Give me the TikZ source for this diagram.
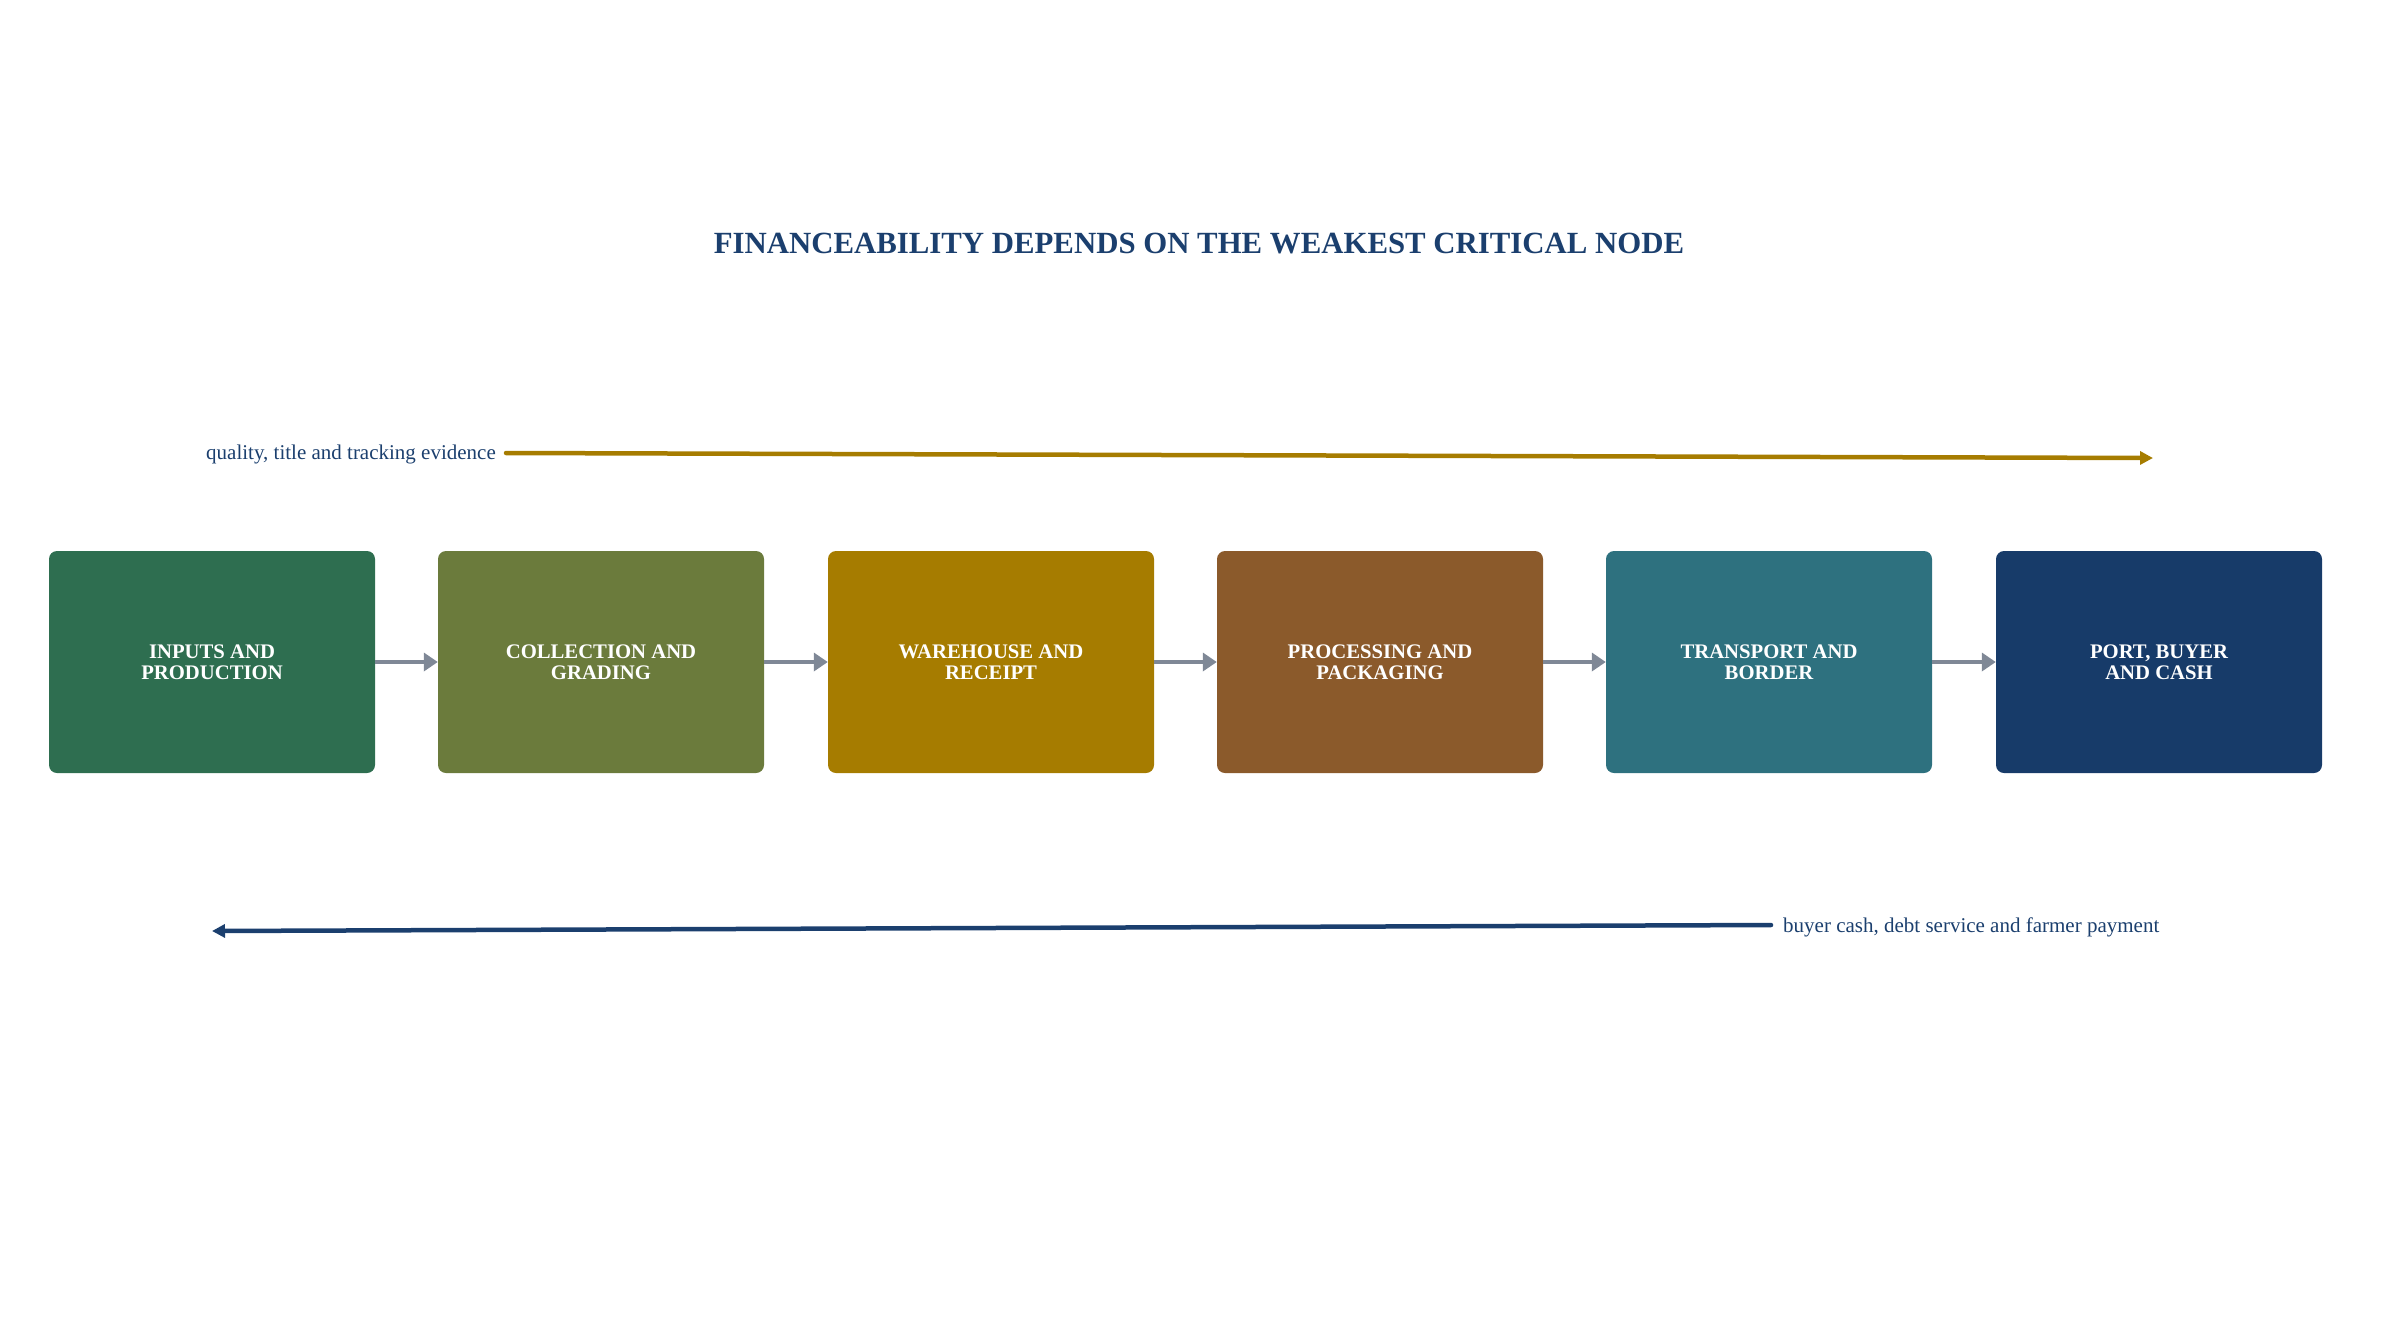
\documentclass[tikz,border=0pt]{standalone}
\usepackage{fontspec}
\setmainfont{Liberation Serif}
\usetikzlibrary{arrows.meta}
\definecolor{cA}{HTML}{2E6E50}
\definecolor{cB}{HTML}{6B7B3C}
\definecolor{cC}{HTML}{A67C00}
\definecolor{cD}{HTML}{8B5A2B}
\definecolor{cE}{HTML}{2E717F}
\definecolor{cF}{HTML}{173B69}
\definecolor{navy}{HTML}{1B3F6E}
\definecolor{conn}{HTML}{7F8896}
\tikzset{
  stagebox/.style={rounded corners=8pt, minimum width=326pt, minimum height=222pt, inner sep=0pt,
    text=white, align=center, font=\fontsize{20.7}{21.5}\selectfont\bfseries},
  flowlink/.style={draw=conn, line width=4.5pt, -{Triangle[length=14pt,width=18pt]}},
  sidelabel/.style={text=navy, font=\fontsize{21}{23}\selectfont, inner sep=0pt},
  longflow/.style={line width=4.5pt, line cap=round, -{Triangle[length=13pt,width=13pt]}},
}
\begin{document}
\begin{tikzpicture}[x=1pt,y=-1pt]
\useasboundingbox (0,0) rectangle (2398,1342);
\node[text=navy, font=\fontsize{30.8}{34}\selectfont\bfseries] (title) at (1199,244) {FINANCEABILITY DEPENDS ON THE WEAKEST CRITICAL NODE};

\node[stagebox, fill=cA] (n1) at (212,662) {INPUTS AND\\PRODUCTION};
\node[stagebox, fill=cB] (n2) at (601,662) {COLLECTION AND\\GRADING};
\node[stagebox, fill=cC] (n3) at (991,662) {WAREHOUSE AND\\RECEIPT};
\node[stagebox, fill=cD] (n4) at (1380,662) {PROCESSING AND\\PACKAGING};
\node[stagebox, fill=cE] (n5) at (1769,662) {TRANSPORT AND\\BORDER};
\node[stagebox, fill=cF] (n6) at (2159,662) {PORT, BUYER\\AND CASH};

\draw[flowlink] (n1.east) -- (n2.west);
\draw[flowlink] (n2.east) -- (n3.west);
\draw[flowlink] (n3.east) -- (n4.west);
\draw[flowlink] (n4.east) -- (n5.west);
\draw[flowlink] (n5.east) -- (n6.west);

\node[sidelabel, anchor=east] (qlab) at (496,454) {quality, title and tracking evidence};
\coordinate (qend) at (2153,458);
\draw[draw=cC, longflow] ([xshift=10pt,yshift=1pt]qlab.east) -- (qend);

\node[sidelabel, anchor=west] (blab) at (1783,927) {buyer cash, debt service and farmer payment};
\coordinate (bend) at (212,931);
\draw[draw=navy, longflow] ([xshift=-12pt,yshift=2pt]blab.west) -- (bend);
\end{tikzpicture}
\end{document}
